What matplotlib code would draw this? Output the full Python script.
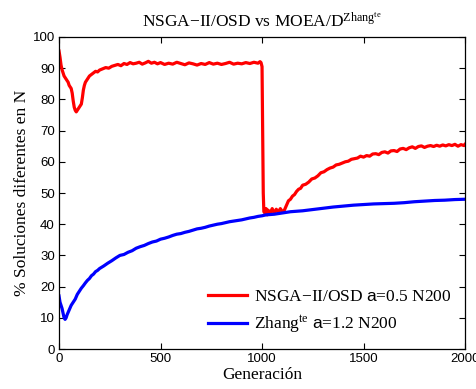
import matplotlib
matplotlib.use('Agg')
import matplotlib.pyplot as plt

plt.rcParams['mathtext.fontset'] = 'custom'
plt.rcParams['mathtext.rm'] = 'Liberation Serif'
plt.rcParams['mathtext.sf'] = 'Liberation Sans'
plt.rcParams['mathtext.it'] = 'Liberation Serif:italic'

# NSGA-II/OSD, a=0.5, N200
red_gen = [0, 5, 10, 15, 20, 25, 30, 35, 40, 45, 50, 55, 60, 65, 70, 75, 80, 85, 90, 95,
           100, 105, 110, 115, 120, 125, 130, 140, 150, 160, 170, 180, 190, 200, 215, 230,
           245, 260, 275, 290, 305, 320, 335, 350, 365, 380, 395, 410, 425, 440, 455, 470,
           485, 500, 520, 540, 560, 580, 600, 620, 640, 660, 680, 700, 720, 740, 760, 780,
           800, 820, 840, 860, 880, 900, 920, 940, 960, 980, 990, 995, 1000, 1003, 1006,
           1009, 1015, 1020, 1025, 1030, 1040, 1050, 1060, 1070, 1080, 1090, 1100, 1110,
           1120, 1130, 1140, 1150, 1160, 1170, 1180, 1190, 1200, 1215, 1230, 1245, 1260,
           1275, 1290, 1305, 1320, 1335, 1350, 1365, 1380, 1395, 1410, 1425, 1440, 1455,
           1470, 1485, 1500, 1515, 1530, 1545, 1560, 1575, 1590, 1605, 1620, 1635, 1650,
           1665, 1680, 1695, 1710, 1725, 1740, 1755, 1770, 1785, 1800, 1815, 1830, 1845,
           1860, 1875, 1890, 1905, 1920, 1935, 1950, 1965, 1980, 1995, 2000]
red_val = [95.5, 93.5, 91, 89.5, 88.5, 87.5, 87, 86.5, 86, 85.5, 84.5, 84, 83.5, 82, 79.5,
           77.5, 76.5, 76, 76.5, 77, 77.5, 78, 78.5, 80.5, 83, 84.5, 85.5, 86.5, 87.5, 88,
           88.5, 89, 88.8, 89.4, 89.8, 90.2, 90, 90.6, 90.9, 91.2, 90.8, 91.5, 91.2, 91.8,
           91.4, 91.6, 91.9, 91.3, 91.7, 92.2, 91.6, 91.9, 91.4, 91.8, 91.2, 91.6, 91.3,
           91.9, 91.5, 91.1, 91.7, 91.4, 91.0, 91.5, 91.2, 91.8, 91.3, 91.6, 91.2, 91.5,
           91.9, 91.3, 91.6, 91.4, 91.8, 91.5, 91.9, 91.6, 92.1, 91.8, 90.5, 70, 50,
           44, 43.5, 45, 43, 44.5, 43.5, 45, 43.5, 44.8, 43.8, 45, 44, 44.5,
           46, 47.5, 48, 49, 49.5, 50.5, 51.2, 51.5, 52.5, 52.8, 53.5, 54.5, 54.8,
           55.5, 56.5, 56.8, 57.5, 58, 58.3, 59, 59.2, 59.6, 60, 60.2, 60.8, 61,
           61.2, 61.8, 61.5, 62, 61.8, 62.5, 62.6, 62.3, 63, 63.2, 62.8, 63.5, 63.6,
           63.3, 64.1, 64.3, 63.9, 64.5, 64.8, 64.3, 64.9, 65.1, 64.6, 65, 65.2, 64.9,
           65.3, 65, 65.4, 65.1, 65.5, 65.2, 65.6, 65, 65.5, 65.2, 65.6]

# Zhang^te, a=1.2, N200
blue_gen = [0, 5, 10, 15, 20, 25, 30, 35, 40, 50, 60, 70, 80, 90, 100, 110, 120, 130, 140,
            150, 160, 170, 180, 190, 200, 220, 240, 260, 280, 300, 320, 340, 360, 380, 400,
            420, 440, 460, 480, 500, 520, 540, 560, 580, 600, 620, 640, 660, 680, 700, 720,
            740, 760, 780, 800, 820, 840, 860, 880, 900, 920, 940, 960, 980, 1000, 1020,
            1040, 1060, 1080, 1100, 1120, 1140, 1160, 1180, 1200, 1250, 1300, 1350, 1400,
            1450, 1500, 1550, 1600, 1650, 1700, 1750, 1800, 1850, 1900, 1950, 2000]
blue_val = [17, 15, 14, 13, 11.5, 10, 9.5, 10, 11, 12.5, 14, 15, 16, 17.5, 18.5, 19.5, 20.3,
            21.2, 22, 22.6, 23.5, 24, 24.8, 25.2, 25.8, 26.6, 27.5, 28.3, 29.2, 30, 30.3, 31,
            31.5, 32.3, 32.8, 33.2, 33.8, 34.3, 34.6, 35.2, 35.5, 35.9, 36.4, 36.8, 37, 37.4,
            37.7, 38.1, 38.5, 38.7, 39, 39.4, 39.7, 40, 40.2, 40.5, 40.8, 41, 41.2, 41.4,
            41.7, 42, 42.2, 42.5, 42.7, 43, 43.1, 43.2, 43.4, 43.6, 43.8, 44, 44.1, 44.2,
            44.3, 44.7, 45.1, 45.5, 45.8, 46.1, 46.3, 46.5, 46.6, 46.7, 46.9, 47.2, 47.4,
            47.6, 47.7, 47.9, 48]

xticks = [0, 500, 1000, 1500, 2000]
yticks = [0, 10, 20, 30, 40, 50, 60, 70, 80, 90, 100]

fig = plt.figure(figsize=(4.77, 3.89), dpi=100)
ax = fig.add_axes([0.1237, 0.1028, 0.8513, 0.8021])

ax.plot(red_gen, red_val, color='#ff0000', lw=2.3,
        label='NSGA\u2212II/OSD $\\mathsf{a}$=0.5 N200')
ax.plot(blue_gen, blue_val, color='#0000ff', lw=2.3,
        label='Zhang$^{\\rm te}$ $\\mathsf{a}$=1.2 N200')

ax.set_xlim(0, 2000)
ax.set_ylim(0, 100)
ax.set_xticks(xticks)
ax.set_yticks(yticks)
ax.tick_params(direction='in', top=True, right=True, length=4, width=0.8,
               labelsize=9.5, pad=3)
for lab in ax.get_xticklabels() + ax.get_yticklabels():
    lab.set_family('Liberation Sans')
for s in ax.spines.values():
    s.set_linewidth(0.9)

ax.set_title('NSGA\u2212II/OSD vs MOEA/D$^{\\rm Zhang^{te}}$',
             family='Liberation Serif', fontsize=12.5, pad=7)
ax.set_xlabel('Generación', family='Liberation Serif', fontsize=12.5, labelpad=1)
ax.set_ylabel('% Soluciones diferentes en N', family='Liberation Serif',
              fontsize=12.5, labelpad=2)

ax.legend(loc='lower right', frameon=False,
          prop={'family': 'Liberation Serif', 'size': 12.5},
          handlelength=2.2, handletextpad=0.4, labelspacing=0.5,
          borderaxespad=0.4)

fig.savefig('out.png', dpi=100)
